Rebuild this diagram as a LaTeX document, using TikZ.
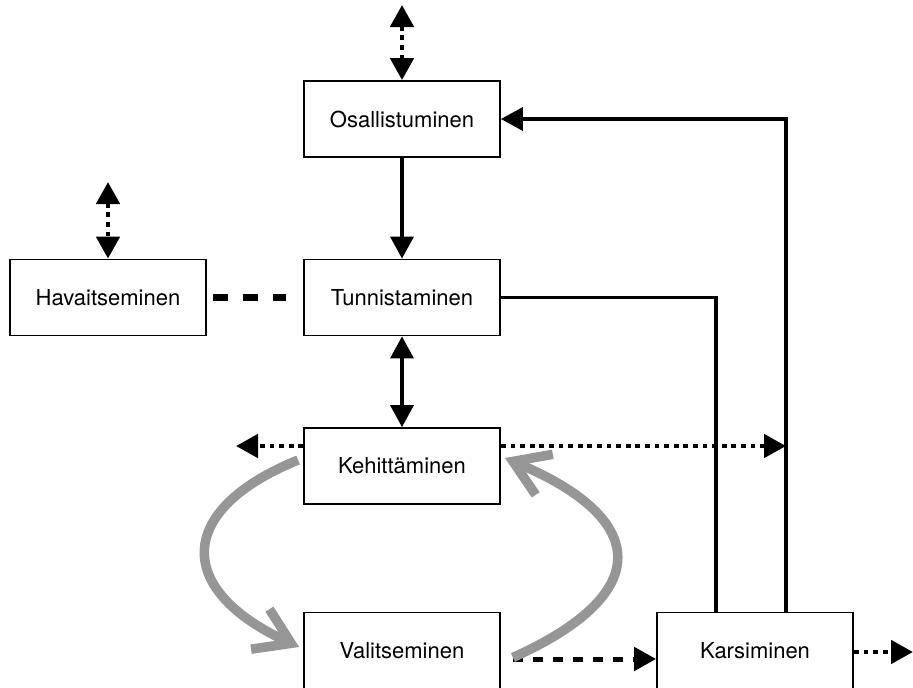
\documentclass[tikz,border=0pt]{standalone}
\usepackage{fontspec}
\setmainfont{TeX Gyre Heros}
\usetikzlibrary{arrows.meta}
\definecolor{curvegray}{RGB}{150,150,150}
\begin{document}
\begin{tikzpicture}[x=1pt,y=-1pt,
  box/.style={draw, line width=1.8pt, minimum width=196pt, minimum height=76pt, inner sep=0pt, font=\fontsize{22}{26}\selectfont},
  solidline/.style={line width=3.5pt},
  dotline/.style={line width=4.8pt, dash pattern=on 4.8pt off 4.8pt},
  dashline/.style={line width=5pt, dash pattern=on 10pt off 10pt},
  bigdash/.style={line width=6.5pt, dash pattern=on 15pt off 15pt},
  curvearrow/.style={line width=9.5pt, curvegray, -{Straight Barb[length=34pt,width=44pt,line cap=butt]}},
  >={Triangle[length=22pt,width=23pt]}
]
\useasboundingbox (0,0) rectangle (913,688);

\node[box] (osal) at (402,119) {Osallistuminen};
\node[box] (tun) at (402,297.5) {Tunnistaminen};
\node[box] (hav) at (108,297.5) {Havaitseminen};
\node[box] (keh) at (402,466) {Kehittäminen};
\node[box] (val) at (402,650.5) {Valitseminen};
\node[box] (kar) at (755,650.5) {Karsiminen};

\coordinate (otop) at (402,5);
\coordinate (htop) at (108,182);
\coordinate (kl) at (236,446);
\coordinate (rv) at (786,446);
\coordinate (kr) at (913,652);

% dotted double arrows on top
\draw[dotline, <->] (otop) -- (osal.north);
\draw[dotline, <->] (htop) -- (hav.north);

% solid arrows
\draw[solidline, ->] (osal.south) -- (tun.north);
\draw[solidline, <->] (tun.south) -- (keh.north);

% dashed link
\draw[bigdash] ([xshift=6pt]hav.east) -- ([xshift=-17pt]tun.west);

% dotted arrows from Kehittaminen
\draw[dotline, ->] (keh.west |- kl) -- (kl);
\draw[dotline, ->] (keh.east |- rv) -- (rv);

% feedback lines
\draw[solidline, ->] ([xshift=31pt]kar.north) |- (osal.east);
\draw[solidline] (tun.east) -| ([xshift=-39pt]kar.north);

% bottom arrows
\draw[dashline, ->] ([xshift=12pt,yshift=-8.5pt]val.east) -- ([yshift=-8.5pt]kar.west);
\draw[dotline, ->] (kar.east |- kr) -- (kr);

% gray curves
\draw[curvearrow] ([xshift=-5pt,yshift=6pt]keh.west) .. controls (175,510) and (175,590) .. ([xshift=-4pt,yshift=3.5pt]val.west);
\draw[curvearrow] ([xshift=12pt,yshift=-7pt]val.east) .. controls (652,595) and (652,520) .. ([xshift=4pt,yshift=8pt]keh.east);
\end{tikzpicture}
\end{document}
